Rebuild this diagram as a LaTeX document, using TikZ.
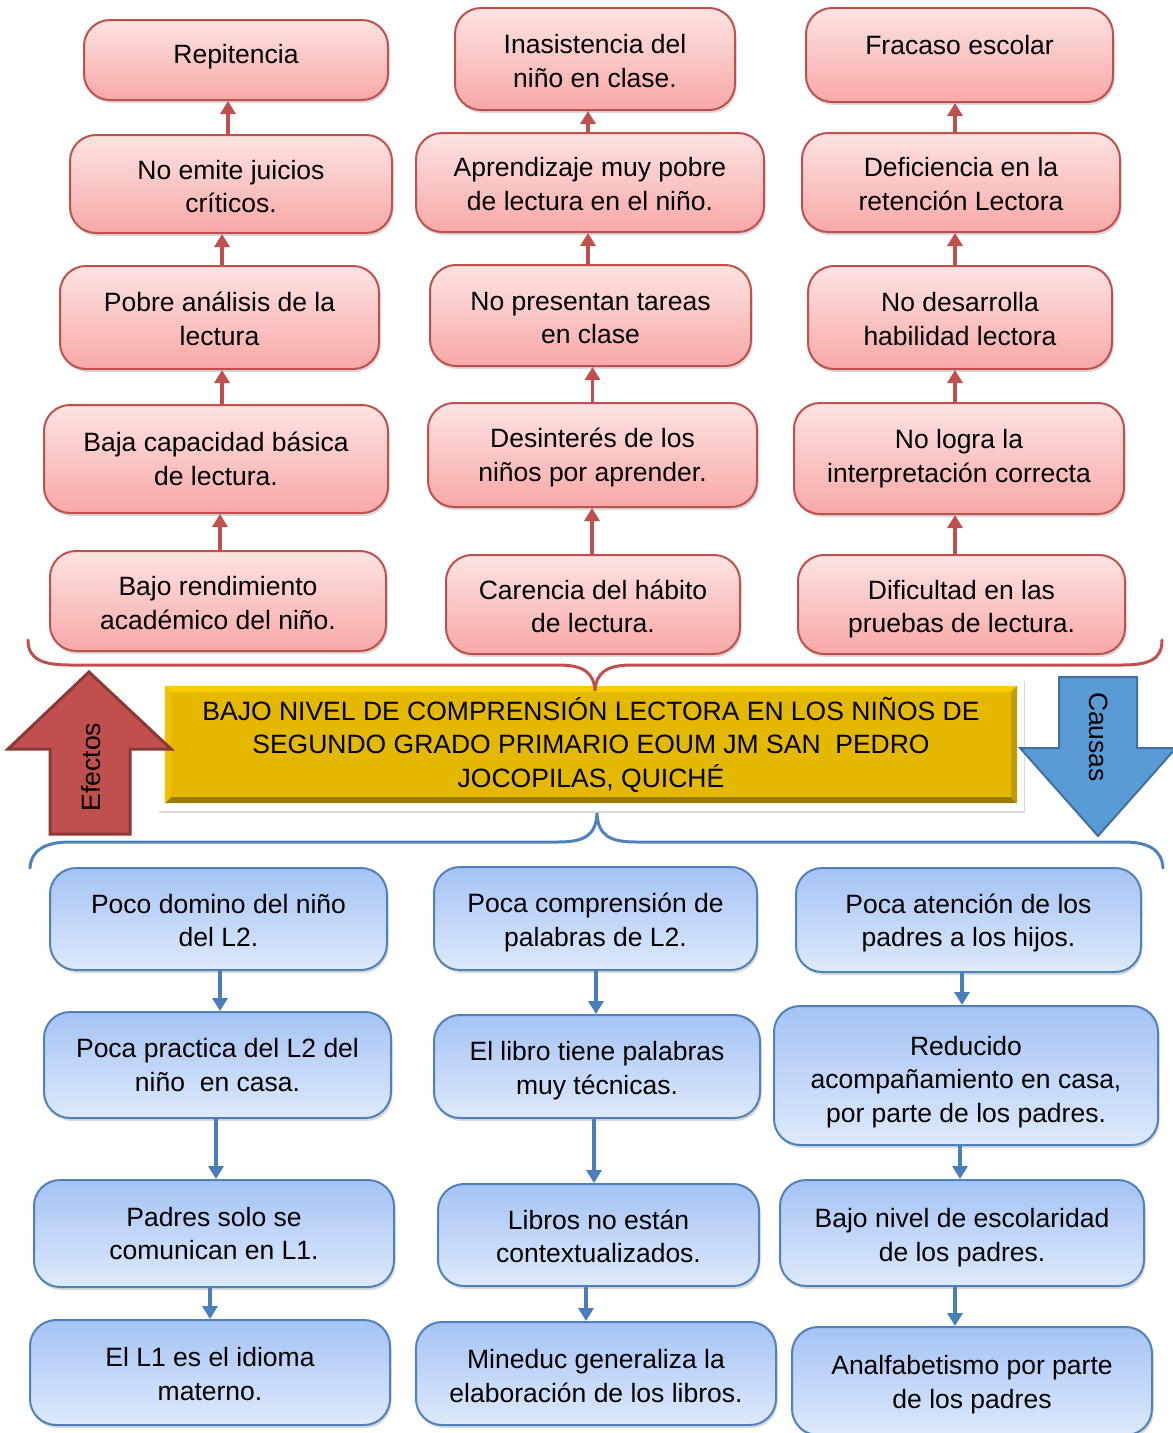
\documentclass[tikz,border=0pt]{standalone}
\usepackage{fontspec}
\setmainfont{Liberation Sans}
\usetikzlibrary{arrows.meta,shadows}
\definecolor{redline}{HTML}{C0504D}
\definecolor{redtop}{HTML}{FDE3E3}
\definecolor{redbot}{HTML}{F8A8A8}
\definecolor{blueline}{HTML}{4F81BD}
\definecolor{bluetop}{HTML}{A5C3F5}
\definecolor{bluebot}{HTML}{DEE9FB}
\definecolor{arrblue}{HTML}{4A7EBB}
\definecolor{effill}{HTML}{C0504D}
\definecolor{efline}{HTML}{8C3836}
\definecolor{cafill}{HTML}{5B9BD5}
\definecolor{caline}{HTML}{41719C}
\definecolor{yfill}{HTML}{E5B800}
\definecolor{ylight}{HTML}{FACC00}
\definecolor{ydark}{HTML}{9C7C00}
\definecolor{yleft}{HTML}{EEC200}
\definecolor{yright}{HTML}{C39C00}
% invisible struts to fine-tune the vertical place of a text in its box
\newcommand{\mytop}[1]{\rule{0pt}{#1pt}}
\newcommand{\mybot}[1]{\rule[-#1pt]{0pt}{0pt}}
\begin{document}
\begin{tikzpicture}[x=1pt,y=-1pt,
  txt/.style={font=\fontsize{26.5}{33.5}\selectfont, align=center},
  wh/.style 2 args={minimum width=#1pt, minimum height=#2pt},
  box/.style={txt, rounded corners=26pt, line width=2pt, inner sep=0pt,
    drop shadow={shadow xshift=1.5pt, shadow yshift=-3pt, opacity=0.3}},
  rbox/.style={box, draw=redline, top color=redtop, bottom color=redbot},
  bbox/.style={box, draw=blueline, top color=bluetop, bottom color=bluebot},
  rarr/.style={draw=redline, line width=3.5pt, -{Triangle[width=15pt,length=13pt]}},
  barr/.style={draw=arrblue, line width=3.5pt, -{Triangle[width=15pt,length=13pt]}},
  brace/.style={line width=3pt, line cap=round}
]
\useasboundingbox (0,0) rectangle (1173,1433);

% ---------- effects (red) ----------
\node[rbox, wh={304}{80}]  (r11) at (236,60)    {Repitencia\mybot{11.6}};
\node[rbox, wh={322}{98}]  (r12) at (231,184)   {\mytop{24.5}No emite juicios\\críticos.};
\node[rbox, wh={319}{103}] (r13) at (219.5,317.5) {\mytop{22.5}Pobre análisis de la\\lectura};
\node[rbox, wh={344}{108}] (r14) at (216,459)   {Baja capacidad básica\\de lectura.};
\node[rbox, wh={336}{100}] (r15) at (218,601)   {\mytop{23.5}Bajo rendimiento\\académico del niño.};

\node[rbox, wh={280}{102}] (r21) at (595,59)    {\mytop{23}Inasistencia del\\niño en clase.};
\node[rbox, wh={348}{99}]  (r22) at (590,182.5) {\mytop{22.5}Aprendizaje muy pobre\\de lectura en el niño.};
\node[rbox, wh={321}{101}] (r23) at (590.5,315.5) {\mytop{23.5}No presentan tareas\\en clase};
\node[rbox, wh={329}{104}] (r24) at (592.5,455) {\mytop{24.5}Desinterés de los\\niños por aprender.};
\node[rbox, wh={294}{99}]  (r25) at (593,604.5) {\mytop{23.5}Carencia del hábito\\de lectura.};

\node[rbox, wh={307}{94}]  (r31) at (959.5,55)  {Fracaso escolar\mybot{20}};
\node[rbox, wh={318}{99}]  (r32) at (961,182.5) {\mytop{22.5}Deficiencia en la\\retención Lectora};
\node[rbox, wh={304}{103}] (r33) at (960,317.5) {\mytop{22.5}No desarrolla\\habilidad lectora};
\node[rbox, wh={330}{111}] (r34) at (959,458.5) {No logra la\\interpretación correcta};
\node[rbox, wh={327}{99}]  (r35) at (961.5,604.5) {\mytop{28.5}Dificultad en las\\pruebas de lectura.};

\draw[rarr] ([xshift=-3pt]r12.north)  -- ([xshift=-3pt]r12.north |- r11.south);
\draw[rarr] ([xshift=2.5pt]r13.north) -- ([xshift=2.5pt]r13.north |- r12.south);
\draw[rarr] ([xshift=6pt]r14.north)   -- ([xshift=6pt]r14.north |- r13.south);
\draw[rarr] ([xshift=2pt]r15.north)   -- ([xshift=2pt]r15.north |- r14.south);

\draw[rarr] ([xshift=-2pt]r22.north)   -- ([xshift=-2pt]r22.north |- r21.south);
\draw[rarr] ([xshift=-2.5pt]r23.north) -- ([xshift=-2.5pt]r23.north |- r22.south);
\draw[rarr] (r24.north) -- (r24.north |- r23.south);
\draw[rarr] ([xshift=-1pt]r25.north)   -- ([xshift=-1pt]r25.north |- r24.south);

\draw[rarr] ([xshift=-6pt]r32.north)   -- ([xshift=-6pt]r32.north |- r31.south);
\draw[rarr] ([xshift=-5pt]r33.north)   -- ([xshift=-5pt]r33.north |- r32.south);
\draw[rarr] ([xshift=-4pt]r34.north)   -- ([xshift=-4pt]r34.north |- r33.south);
\draw[rarr] ([xshift=-6.5pt]r35.north) -- ([xshift=-6.5pt]r35.north |- r34.south);

% ---------- causes (blue) ----------
\node[bbox, wh={337}{102}] (b11) at (218.5,919)  {\mytop{22.5}Poco domino del niño\\del L2.};
\node[bbox, wh={347}{106}] (b12) at (217.5,1065) {Poca practica del L2 del\\niño\ \ en casa.};
\node[bbox, wh={360}{107}] (b13) at (214,1233.5) {Padres solo se\\comunican en L1.};
\node[bbox, wh={360}{105}] (b14) at (210,1372.5) {\mytop{22.5}El L1 es el idioma\\materno.};

\node[bbox, wh={323}{103}] (b21) at (595.5,918.5) {\mytop{27.5}Poca comprensión de\\palabras de L2.};
\node[bbox, wh={326}{103}] (b22) at (597,1066.5)  {\mytop{27.5}El libro tiene palabras\\muy técnicas.};
\node[bbox, wh={321}{102}] (b23) at (598.5,1235)  {\mytop{22.5}Libros no están\\contextualizados.};
\node[bbox, wh={360}{103}] (b24) at (596,1373.5)  {\mytop{24.5}Mineduc generaliza la\\elaboración de los libros.};

\node[bbox, wh={345}{104}] (b31) at (968.5,920)  {\mytop{25.5}Poca atención de los\\padres a los hijos.};
\node[bbox, wh={384}{139}] (b32) at (966,1075.5) {\mytop{31.5}Reducido\\acompañamiento en casa,\\por parte de los padres.};
\node[bbox, wh={364}{106}] (b33) at (962,1233)   {\mytop{28.5}Bajo nivel de escolaridad\\de los padres.};
\node[bbox, wh={360}{108}] (b34) at (972,1381)   {\mytop{26.5}Analfabetismo por parte\\de los padres};

\draw[barr] ([xshift=1.5pt]b11.south)  -- ([xshift=1.5pt]b11.south |- b12.north);
\draw[barr] ([xshift=-1.5pt]b12.south) -- ([xshift=-1.5pt]b12.south |- b13.north);
\draw[barr] ([xshift=-4pt]b13.south)   -- ([xshift=-4pt]b13.south |- b14.north);

\draw[barr] ([xshift=0.5pt]b21.south)  -- ([xshift=0.5pt]b21.south |- b22.north);
\draw[barr] ([xshift=-3pt]b22.south)   -- ([xshift=-3pt]b22.south |- b23.north);
\draw[barr] ([xshift=-12.5pt]b23.south) -- ([xshift=-12.5pt]b23.south |- b24.north);

\draw[barr] ([xshift=-6.5pt]b31.south) -- ([xshift=-6.5pt]b31.south |- b32.north);
\draw[barr] ([xshift=-6pt]b32.south)   -- ([xshift=-6pt]b32.south |- b33.north);
\draw[barr] ([xshift=-7pt]b33.south)   -- ([xshift=-7pt]b33.south |- b34.north);

% ---------- central problem ----------
\node[fill=white, wh={866}{132}, inner sep=0pt,
      drop shadow={shadow xshift=1pt, shadow yshift=-2pt, opacity=0.3}] (frame) at (591,744.5) {};
\node[fill=yfill, wh={852}{117}, inner sep=0pt, txt] (ybox) at (591,744.5)
  {BAJO NIVEL DE COMPRENSIÓN LECTORA EN LOS NIÑOS DE\\SEGUNDO GRADO PRIMARIO EOUM JM SAN\ \ PEDRO\\JOCOPILAS, QUICHÉ};
\fill[ylight] (ybox.north west) -- (ybox.north east) -- ([xshift=-6pt,yshift=-6pt]ybox.north east) -- ([xshift=6pt,yshift=-6pt]ybox.north west) -- cycle;
\fill[ydark] (ybox.south west) -- (ybox.south east) -- ([xshift=-6pt,yshift=6pt]ybox.south east) -- ([xshift=6pt,yshift=6pt]ybox.south west) -- cycle;
\fill[yleft] (ybox.north west) -- ([xshift=6pt,yshift=-6pt]ybox.north west) -- ([xshift=6pt,yshift=6pt]ybox.south west) -- (ybox.south west) -- cycle;
\fill[yright] (ybox.north east) -- ([xshift=-6pt,yshift=-6pt]ybox.north east) -- ([xshift=-6pt,yshift=6pt]ybox.south east) -- (ybox.south east) -- cycle;

% ---------- braces ----------
\draw[brace, redline] (28,640) .. controls (28,659) and (42,665) .. (70,665) -- (558,665)
  .. controls (584,665) and (594,673) .. (595,691)
  .. controls (596,673) and (606,665) .. (632,665) -- (1122,665)
  .. controls (1150,665) and (1162,659) .. (1162,640);
\draw[brace, blueline] (30,868) .. controls (31,851) and (44,842) .. (70,842) -- (558,842)
  .. controls (585,842) and (596,835) .. (597,813)
  .. controls (598,835) and (609,842) .. (636,842) -- (1124,842)
  .. controls (1150,842) and (1162,851) .. (1163,868);

% ---------- big arrows ----------
\draw[fill=effill, draw=efline, line width=3pt, line join=miter]
  (89,672) -- (171,749) -- (130,749) -- (130,834) -- (50,834) -- (50,749) -- (8,749) -- cycle;
\node[txt, rotate=90] (efectos) at (91,767) {Efectos};
\draw[fill=cafill, draw=caline, line width=2pt, line join=miter]
  (1059,677) -- (1137,677) -- (1137,748) -- (1176,748) -- (1098,836) -- (1020,748) -- (1059,748) -- cycle;
\node[txt, rotate=-90] (causas) at (1099,737) {Causas};
\end{tikzpicture}
\end{document}
